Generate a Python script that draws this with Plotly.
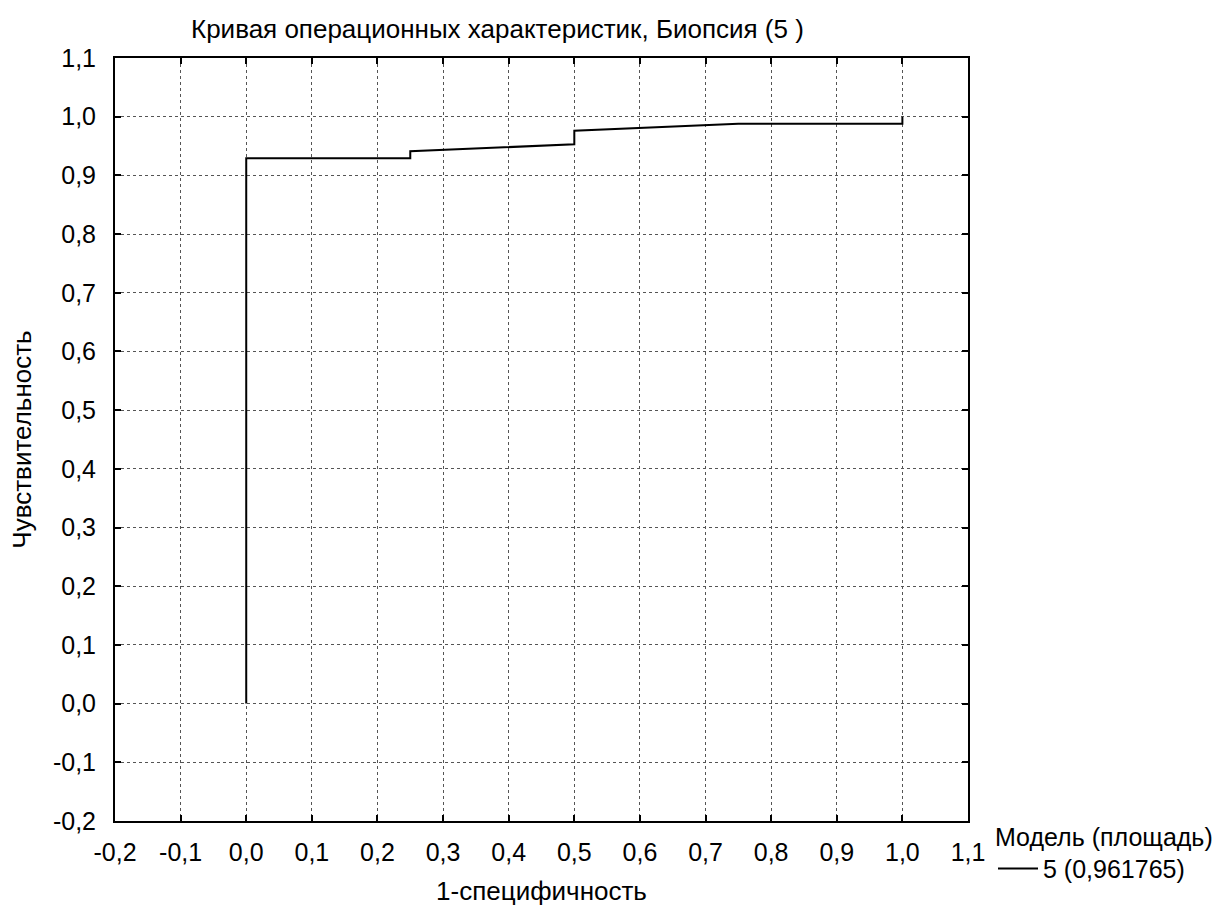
import plotly.graph_objects as go

# ROC curve data (1-specificity, sensitivity)
fpr = [0.0, 0.0, 0.25, 0.25, 0.5, 0.5, 0.75, 1.0, 1.0]
tpr = [0.0, 0.929, 0.929, 0.941, 0.953, 0.976, 0.988, 0.988, 1.0]

tick_vals = [-0.2, -0.1, 0.0, 0.1, 0.2, 0.3, 0.4, 0.5, 0.6, 0.7, 0.8, 0.9, 1.0, 1.1]
tick_text = ["-0,2", "-0,1", "0,0", "0,1", "0,2", "0,3", "0,4", "0,5", "0,6", "0,7", "0,8", "0,9", "1,0", "1,1"]

series_name = "5 (0,961765)"
legend_title = "Модель (площадь)"
title_text = "Кривая операционных характеристик, Биопсия (5 )"
x_title = "1-специфичность"
y_title = "Чувствительность"

FONT = "Liberation Sans, Arial, sans-serif"

fig = go.Figure()
fig.add_trace(go.Scatter(x=fpr, y=tpr, mode="lines", name=series_name,
                         line=dict(color="black", width=2)))

L, R, T, B = 115, 262, 58, 87
W, H = 1230, 908
pw = W - L - R
ph = H - T - B

axis_common = dict(
    tickvals=tick_vals, ticktext=tick_text, range=[-0.2, 1.1],
    showgrid=True, gridcolor="#555555", griddash="dot", gridwidth=1,
    zeroline=False, showline=True, linecolor="black", linewidth=2,
    mirror="ticks", ticks="inside", ticklen=6, tickwidth=1.5, tickcolor="black",
    tickfont=dict(family=FONT, size=25, color="black"),
    automargin=False,
)

fig.update_layout(
    width=W, height=H,
    margin=dict(l=L, r=R, t=T, b=B, autoexpand=False),
    paper_bgcolor="white", plot_bgcolor="white",
    font=dict(family=FONT, color="black"),
    xaxis=dict(**axis_common, ticklabelstandoff=8,
               title=dict(text=x_title, font=dict(size=26), standoff=17)),
    yaxis=dict(**axis_common, ticklabelstandoff=12,
               title=dict(text=y_title, font=dict(size=26), standoff=14)),
    showlegend=True,
    legend=dict(
        title=dict(text=legend_title, font=dict(size=25)),
        font=dict(size=25),
        x=(993 - L) / pw, xanchor="left",
        y=0.01, yanchor="top",
        bgcolor="rgba(0,0,0,0)",
        itemwidth=40, tracegroupgap=0,
    ),
    annotations=[dict(text=title_text, xref="paper", yref="paper",
                      x=(189 - L) / pw, y=1 + (58 - 29) / ph,
                      xanchor="left", yanchor="middle", showarrow=False,
                      font=dict(size=26, family=FONT, color="black"))],
)

fig.write_html("out.html")
